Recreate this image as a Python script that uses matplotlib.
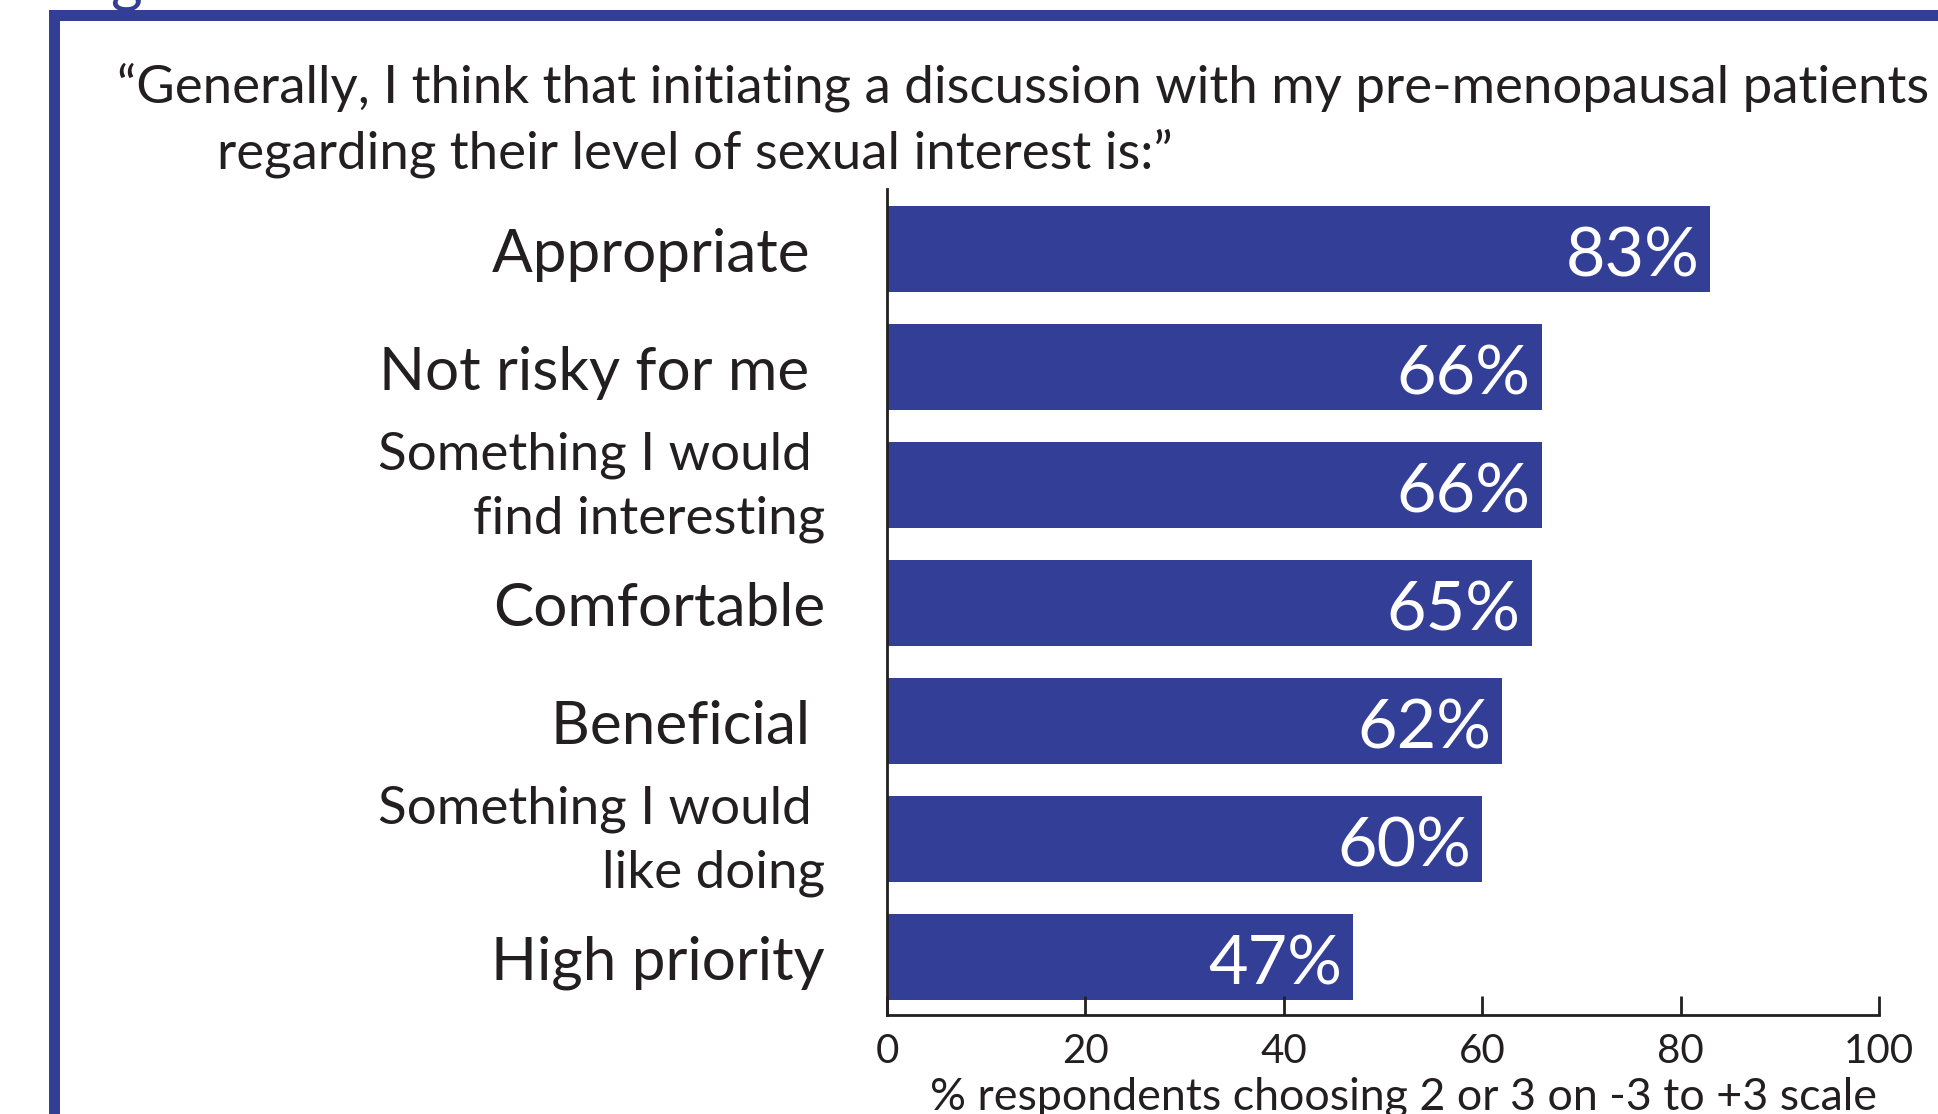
import matplotlib
matplotlib.use("Agg")
import matplotlib.pyplot as plt
from matplotlib.patches import Rectangle

categories = ["Appropriate ", "Not risky for me ", "Something I would \nfind interesting",
              "Comfortable", "Beneficial ", "Something I would \nlike doing", "High priority"]
values = [83, 66, 66, 65, 62, 60, 47]
value_labels = ["83%", "66%", "66%", "65%", "62%", "60%", "47%"]
xticks = [0, 20, 40, 60, 80, 100]
xlabel = "% respondents choosing 2 or 3 on -3 to +3 scale"
title_line1 = "\u201cGenerally, I think that initiating a discussion with my pre-menopausal patients"
title_line2 = "regarding their level of sexual interest is:\u201d"

BLUE = "#333e97"
INK = "#231f20"
FONT = "Lato"
plt.rcParams['font.family'] = [FONT, 'DejaVu Sans']

W, H = 1938, 1114
PT = 0.72  # points per pixel at dpi 100
fig = plt.figure(figsize=(W / 100, H / 100), dpi=100)
fig.patch.set_facecolor("white")
renderer = fig.canvas.get_renderer()


def size_for(s, target_px, base=40.0):
    t = fig.text(0, 0, s, fontsize=base)
    w = t.get_window_extent(renderer).width
    t.remove()
    return base * target_px / w


fs_title = size_for(title_line2, 955)
fs_single = size_for("Appropriate", 318)
fs_double = size_for("find interesting", 351)
fs_value = size_for("83%", 134)
fs_tick = size_for("100", 70)
fs_xlabel = size_for(xlabel, 947)

# frame
fig.patches.append(Rectangle((49 / W, 0), 11 / W, 1 - 10 / H, transform=fig.transFigure,
                             facecolor=BLUE, edgecolor="none"))
fig.patches.append(Rectangle((49 / W, 1 - 21 / H), 1, 11 / H, transform=fig.transFigure,
                             facecolor=BLUE, edgecolor="none"))
# cut-off title glyph above the frame
fig.text(110 / W, 1 - 0 / H, "g", color=BLUE, fontsize=44, ha="left", va="baseline")

ax = fig.add_axes([887 / W, 1 - 1015 / H, (1879 - 887) / W, (1015 - 189) / H])
ypos = list(range(len(categories)))
ax.barh(ypos, values, height=0.726, color=BLUE, edgecolor="none")
ax.set_xlim(0, 100)
ax.set_ylim(6.494, -0.507)

for y, v, lab in zip(ypos, values, value_labels):
    ax.annotate(lab, (v, y), xytext=(-11 * PT, -28 * PT), textcoords="offset points",
                ha="right", va="baseline", color="white", fontsize=fs_value)

for y, lab in zip(ypos, categories):
    lines = lab.split("\n")
    if len(lines) == 1:
        offsets = [-23]
        fs = fs_single
    else:
        offsets = [15, -49]
        fs = fs_double
    for line, dy in zip(lines, offsets):
        ax.annotate(line, (0, y), xytext=(-62 * PT, dy * PT), textcoords="offset points",
                    ha="right", va="baseline", color=INK, fontsize=fs,
                    annotation_clip=False)

ax.set_yticks([])
ax.set_xticks(xticks)
ax.set_xticklabels([str(t) for t in xticks], fontsize=fs_tick, color=INK)
ax.tick_params(axis="x", direction="in", length=19 * PT, width=2, pad=18 * PT, colors=INK)
for s in ["top", "right"]:
    ax.spines[s].set_visible(False)
for s in ["left", "bottom"]:
    ax.spines[s].set_linewidth(2)
    ax.spines[s].set_color(INK)

fig.text(1403.5 / W, 1 - 1110 / H, xlabel, fontsize=fs_xlabel, ha="center", va="baseline",
         color=INK)
fig.text(117 / W, 1 - 102 / H, title_line1, fontsize=fs_title, ha="left", va="baseline",
         color=INK)
fig.text(217 / W, 1 - 168 / H, title_line2, fontsize=fs_title, ha="left", va="baseline",
         color=INK)

fig.savefig("out.png", dpi=100, facecolor="white")
